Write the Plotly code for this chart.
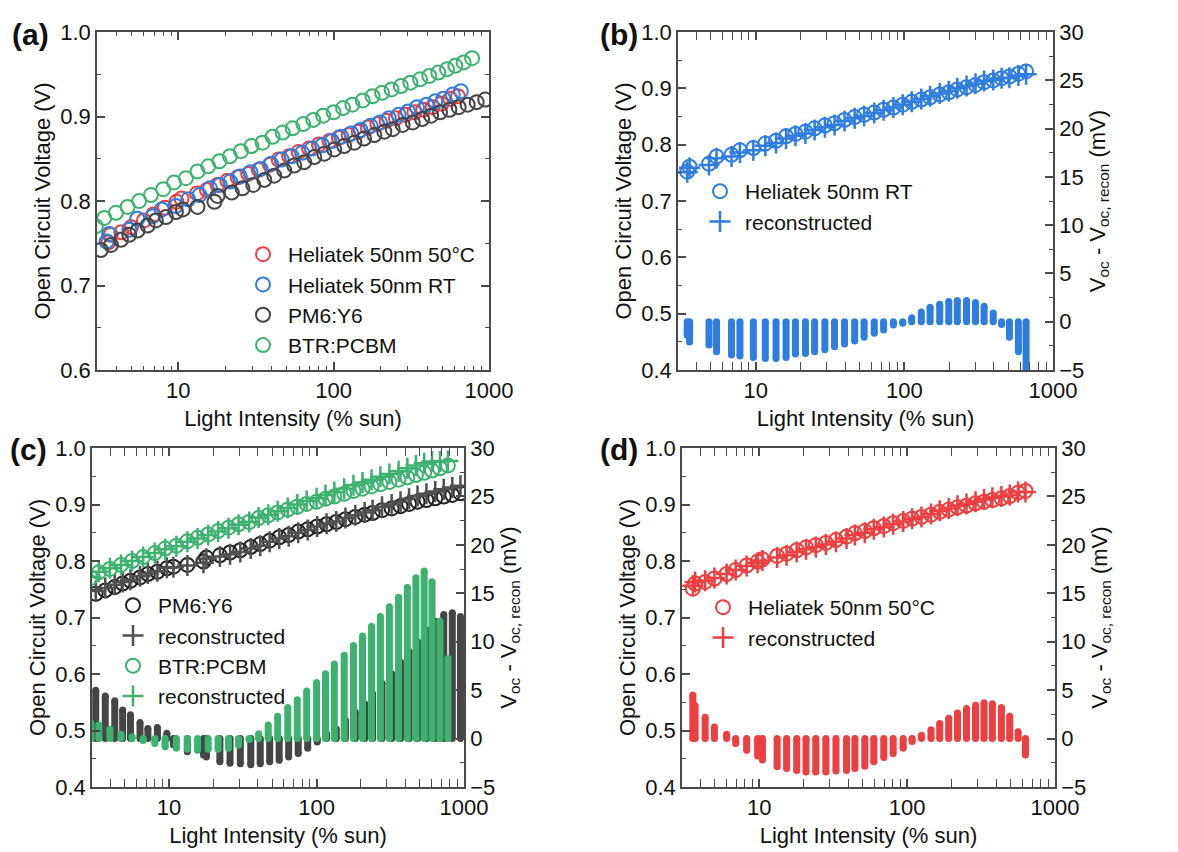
import math
import plotly.graph_objects as go

# ---------------- data ----------------
# Heliatek 50nm RT
rt_x = [3.46, 3.59, 4.85, 5.45, 6.87, 7.83, 9.64, 11.6, 13.7, 16.0, 18.5, 21.6, 24.9, 29.2, 33.9, 39.6,
        46.3, 53.6, 62.7, 72.5, 84.4, 97.5, 112, 130, 149, 173, 199, 227, 262, 301, 344, 396, 451, 509, 585, 659]
rt_voc = [0.752, 0.761, 0.766, 0.779, 0.782, 0.790, 0.794, 0.802, 0.807, 0.815, 0.819, 0.823, 0.829, 0.834,
          0.838, 0.844, 0.849, 0.853, 0.857, 0.862, 0.866, 0.871, 0.876, 0.880, 0.884, 0.889, 0.893, 0.898,
          0.902, 0.906, 0.911, 0.914, 0.918, 0.921, 0.926, 0.930]
rt_rec = [0.751, 0.759, 0.764, 0.776, 0.779, 0.786, 0.790, 0.798, 0.803, 0.811, 0.816, 0.820, 0.826, 0.831,
          0.835, 0.842, 0.847, 0.851, 0.856, 0.861, 0.866, 0.871, 0.876, 0.881, 0.886, 0.891, 0.895, 0.900,
          0.904, 0.908, 0.913, 0.915, 0.918, 0.919, 0.923, 0.925]
rt_res = [-1.4, -2.1, -2.4, -3.1, -3.45, -3.55, -3.7, -3.8, -3.8, -3.7, -3.35, -3.3, -3.1, -2.9, -2.6, -2.3,
          -2.0, -1.6, -1.2, -0.85, -0.35, -0.15, 0.4, 1.0, 1.5, 1.8, 2.1, 2.2, 2.2, 2.0, 1.6, 0.9, -0.3, -1.6,
          -3.1, -5.5]

# Heliatek 50nm 50 C
hot_x = [3.55, 3.68, 4.30, 4.97, 6.01, 6.92, 8.21, 9.74, 10.5, 13.2, 15.3, 17.9, 20.7, 24.1, 28.2, 33.0,
         38.9, 44.3, 51.7, 59.5, 69.5, 80.4, 94, 108, 125, 145, 166, 191, 219, 252, 290, 331, 377, 434, 494,
         563, 631]
hot_voc = [0.751, 0.760, 0.763, 0.769, 0.777, 0.784, 0.792, 0.799, 0.803, 0.809, 0.813, 0.819, 0.824, 0.828,
           0.832, 0.837, 0.843, 0.849, 0.853, 0.858, 0.862, 0.867, 0.871, 0.875, 0.878, 0.882, 0.887, 0.891,
           0.895, 0.898, 0.902, 0.905, 0.908, 0.911, 0.915, 0.921, 0.924]
hot_rec = [0.756, 0.763, 0.765, 0.770, 0.777, 0.784, 0.791, 0.797, 0.801, 0.806, 0.810, 0.816, 0.821, 0.825,
           0.829, 0.834, 0.840, 0.846, 0.850, 0.856, 0.860, 0.865, 0.870, 0.875, 0.878, 0.883, 0.889, 0.893,
           0.898, 0.901, 0.905, 0.909, 0.912, 0.914, 0.917, 0.922, 0.922]
hot_res = [4.5, 3.4, 2.2, 1.2, 0.45, -0.5, -1.2, -1.8, -2.2, -2.9, -3.1, -3.3, -3.45, -3.45, -3.45, -3.35,
           -3.3, -3.1, -2.85, -2.4, -1.96, -1.55, -1.0, -0.3, 0.35, 0.9, 1.55, 2.1, 2.65, 3.1, 3.45, 3.7, 3.6,
           3.2, 2.3, 0.7, -1.7]

# PM6:Y6
pm_x = [3.18, 3.69, 4.28, 4.84, 5.47, 6.35, 7.18, 8.33, 9.66, 10.7, 13.3, 17.1, 17.9, 22.1, 25.9, 30.4,
        35.8, 41.5, 48.1, 55.8, 64.7, 75.1, 87.1, 101, 117, 136, 157, 183, 212, 240, 278, 323, 371, 424, 484,
        556, 638, 729, 833, 946]
pm_voc = [0.742, 0.748, 0.754, 0.760, 0.765, 0.771, 0.777, 0.781, 0.787, 0.790, 0.793, 0.799, 0.806, 0.810,
          0.815, 0.819, 0.825, 0.830, 0.836, 0.842, 0.846, 0.852, 0.856, 0.861, 0.865, 0.869, 0.874, 0.878,
          0.882, 0.885, 0.890, 0.893, 0.897, 0.901, 0.905, 0.908, 0.911, 0.914, 0.917, 0.920]
pm_rec = [0.747, 0.752, 0.758, 0.763, 0.767, 0.773, 0.778, 0.782, 0.788, 0.789, 0.792, 0.797, 0.804, 0.808,
          0.812, 0.816, 0.822, 0.827, 0.834, 0.840, 0.844, 0.850, 0.855, 0.861, 0.866, 0.870, 0.876, 0.881,
          0.886, 0.890, 0.896, 0.900, 0.905, 0.910, 0.915, 0.919, 0.923, 0.927, 0.930, 0.933]
pm_res = [5.0, 4.4, 3.9, 2.95, 2.45, 1.65, 1.05, 1.15, 0.55, -0.65, -1.35, -1.7, -1.9, -2.4, -2.55, -2.6,
          -2.7, -2.6, -2.4, -2.25, -1.9, -1.55, -1.0, -0.35, 0.5, 1.0, 1.9, 2.75, 3.6, 4.65, 5.7, 6.7, 7.9,
          9.0, 10.0, 11.2, 12.1, 12.8, 13.0, 12.6]

# BTR:PCBM
btr_x = [2.95, 3.34, 3.97, 4.72, 5.61, 6.67, 8.0, 9.4, 11.2, 13.3, 15.6, 18.4, 21.5, 25.3, 29.6, 34.9, 40.5,
         47, 54.5, 63.8, 74, 85.7, 100, 115, 132, 154, 178, 205, 236, 271, 312, 360, 413, 472, 537, 607, 687,
         778]
btr_voc = [0.770, 0.780, 0.786, 0.793, 0.800, 0.807, 0.814, 0.822, 0.827, 0.835, 0.841, 0.847, 0.853, 0.859,
           0.865, 0.869, 0.876, 0.881, 0.886, 0.891, 0.896, 0.901, 0.905, 0.910, 0.914, 0.919, 0.924, 0.928,
           0.932, 0.936, 0.940, 0.944, 0.948, 0.952, 0.956, 0.960, 0.964, 0.969]
btr_rec = [0.772, 0.781, 0.787, 0.793, 0.800, 0.807, 0.814, 0.821, 0.826, 0.834, 0.840, 0.846, 0.852, 0.858,
           0.864, 0.869, 0.877, 0.882, 0.888, 0.894, 0.900, 0.906, 0.911, 0.917, 0.922, 0.928, 0.934, 0.939,
           0.944, 0.949, 0.954, 0.959, 0.964, 0.969, 0.973, 0.976, 0.976, 0.977]
btr_res = [1.6, 1.4, 1.0, 0.45, 0.2, -0.2, -0.5, -0.85, -1.0, -1.1, -1.2, -1.1, -1.1, -1.0, -0.7, -0.1, 0.5,
           1.4, 2.3, 3.2, 4.0, 4.9, 5.8, 6.7, 7.7, 8.6, 9.6, 10.6, 11.6, 12.6, 13.6, 14.6, 15.6, 16.6, 17.3,
           16.2, 12.1, 8.3]

x_major = [10, 100, 1000]
x_major_text = ["10", "100", "1000"]
x_minor = [3, 4, 5, 6, 7, 8, 9, 20, 30, 40, 50, 60, 70, 80, 90, 200, 300, 400, 500, 600, 700, 800, 900]

# ---------------- styling ----------------
W, H = 1178, 852
FONT = "Arial, Liberation Sans, sans-serif"
RED = "#EC3F41"
BLUE = "#2E7DDF"
GRAY = "#454545"
DARK = "#222222"
GREEN = "#3DB26E"
AX = "#4a4a4a"


def pxx(p):
    return p / W


def pxy(p):
    return 1 - p / H


fig = go.Figure()


def circles(x, y, color, name, xa, ya, legend, show=True):
    fig.add_trace(go.Scatter(x=x, y=y, mode="markers", name=name, xaxis=xa, yaxis=ya, legend=legend,
                             showlegend=show,
                             marker=dict(symbol="circle-open", size=14, color=color, line=dict(width=2))))


def pluses(x, y, color, name, xa, ya, legend):
    fig.add_trace(go.Scatter(x=x, y=y, mode="markers", name=name, xaxis=xa, yaxis=ya, legend=legend,
                             marker=dict(symbol="cross-thin-open", size=15, color=color, line=dict(width=2.5))))


def drops(x, v, color, xa, ya):
    X, Y = [], []
    for xi, vi in zip(x, v):
        X += [xi, xi, None]
        Y += [0, vi, None]
    fig.add_trace(go.Scatter(x=X, y=Y, mode="lines+markers", xaxis=xa, yaxis=ya, showlegend=False,
                             line=dict(color=color, width=7), marker=dict(size=7, color=color),
                             hoverinfo="skip"))


# panel (a)
circles(hot_x, hot_voc, RED, "Heliatek 50nm 50°C", "x", "y", "legend")
circles(rt_x, rt_voc, BLUE, "Heliatek 50nm RT", "x", "y", "legend")
circles(pm_x, pm_voc, GRAY, "PM6:Y6", "x", "y", "legend")
circles(btr_x, btr_voc, GREEN, "BTR:PCBM", "x", "y", "legend")

# panel (b)
drops(rt_x, rt_res, BLUE, "x2", "y3")
circles(rt_x, rt_voc, BLUE, "Heliatek 50nm RT", "x2", "y2", "legend2")
pluses(rt_x, rt_rec, BLUE, "reconstructed", "x2", "y2", "legend2")

# panel (c)
drops(pm_x, pm_res, GRAY, "x3", "y5")
drops(btr_x, btr_res, GREEN, "x3", "y5")
circles(pm_x, pm_voc, DARK, "PM6:Y6", "x3", "y4", "legend3")
pluses(pm_x, pm_rec, "#505050", "reconstructed", "x3", "y4", "legend3")
circles(btr_x, btr_voc, GREEN, "BTR:PCBM", "x3", "y4", "legend3")
pluses(btr_x, btr_rec, GREEN, "reconstructed", "x3", "y4", "legend3")

# panel (d)
drops(hot_x, hot_res, RED, "x4", "y7")
circles(hot_x, hot_voc, RED, "Heliatek 50nm 50°C", "x4", "y6", "legend4")
pluses(hot_x, hot_rec, RED, "reconstructed", "x4", "y6", "legend4")

tickfont = dict(size=22, color="#111", family=FONT)
titlefont = dict(size=22, color="#111", family=FONT)


def xax(l, r, top, bottom, anchor):
    return dict(type="log", range=[math.log10(3), 3], domain=[pxx(l), pxx(r)], anchor=anchor,
                automargin=False,
                tickmode="array", tickvals=x_major, ticktext=x_major_text, ticks="inside", ticklen=8,
                tickwidth=1.5, tickcolor=AX, showline=True, linecolor=AX, linewidth=1.5, mirror="allticks",
                minor=dict(tickvals=x_minor, ticks="inside", ticklen=4, tickwidth=1.2, tickcolor=AX),
                showgrid=False, zeroline=False, tickfont=tickfont,
                title=dict(text="Light Intensity (% sun)", font=titlefont, standoff=8))


def yax(top, bottom, anchor, rng, mirror):
    return dict(range=rng, domain=[pxy(bottom), pxy(top)], anchor=anchor, dtick=0.1, tickformat=".1f",
                automargin=False,
                ticks="inside", ticklen=8, tickwidth=1.5, tickcolor=AX, showline=True, linecolor=AX,
                linewidth=1.5, mirror=mirror,
                minor=dict(dtick=0.05, ticks="inside", ticklen=4, tickwidth=1.2, tickcolor=AX),
                showgrid=False, zeroline=False, tickfont=tickfont,
                title=dict(text="Open Circuit Voltage (V)", font=titlefont, standoff=4))


def y2ax(anchor, over):
    return dict(range=[-5, 30], overlaying=over, anchor=anchor, side="right", dtick=5, ticks="inside",
                automargin=False,
                ticklen=8, tickwidth=1.5, tickcolor=AX, showline=True, linecolor=AX, linewidth=1.5,
                minor=dict(dtick=2.5, ticks="inside", ticklen=4, tickwidth=1.2, tickcolor=AX),
                showgrid=False, zeroline=False, tickfont=tickfont,
                title=dict(text="V<sub>oc</sub> - V<sub>oc, recon</sub> (mV)", font=titlefont, standoff=6))


legfont = dict(size=21, color="#111", family=FONT)


def leg(xp, yp):
    return dict(x=pxx(xp), y=pxy(yp), xanchor="left", yanchor="top", font=legfont,
                bgcolor="rgba(0,0,0,0)", borderwidth=0, tracegroupgap=0, itemwidth=40)


fig.update_layout(
    width=W, height=H, margin=dict(l=0, r=0, t=0, b=0, autoexpand=False), paper_bgcolor="white",
    plot_bgcolor="white",
    font=dict(family=FONT, color="#111"),
    xaxis=xax(97, 489, 32, 370, "y"),
    yaxis=yax(32, 370, "x", [0.6, 1.0], "allticks"),
    xaxis2=xax(678, 1053, 32, 370, "y2"),
    yaxis2=yax(32, 370, "x2", [0.4, 1.0], True),
    yaxis3=y2ax("x2", "y2"),
    xaxis3=xax(92, 464, 448, 787, "y4"),
    yaxis4=yax(448, 787, "x3", [0.4, 1.0], True),
    yaxis5=y2ax("x3", "y4"),
    xaxis4=xax(682, 1055, 448, 787, "y6"),
    yaxis6=yax(448, 787, "x4", [0.4, 1.0], True),
    yaxis7=y2ax("x4", "y6"),
    legend=leg(238, 234),
    legend2=leg(695, 171),
    legend3=leg(108, 585),
    legend4=leg(698, 587),
    showlegend=True,
)

for txt, xp, yp in [("(a)", 30, 35), ("(b)", 619, 35), ("(c)", 28, 450), ("(d)", 619, 450)]:
    fig.add_annotation(text="<b>" + txt + "</b>", x=pxx(xp), y=pxy(yp), xref="paper", yref="paper",
                       xanchor="center", yanchor="middle", showarrow=False,
                       font=dict(size=30, family=FONT, color="#111"))

fig.write_html("out.html")
